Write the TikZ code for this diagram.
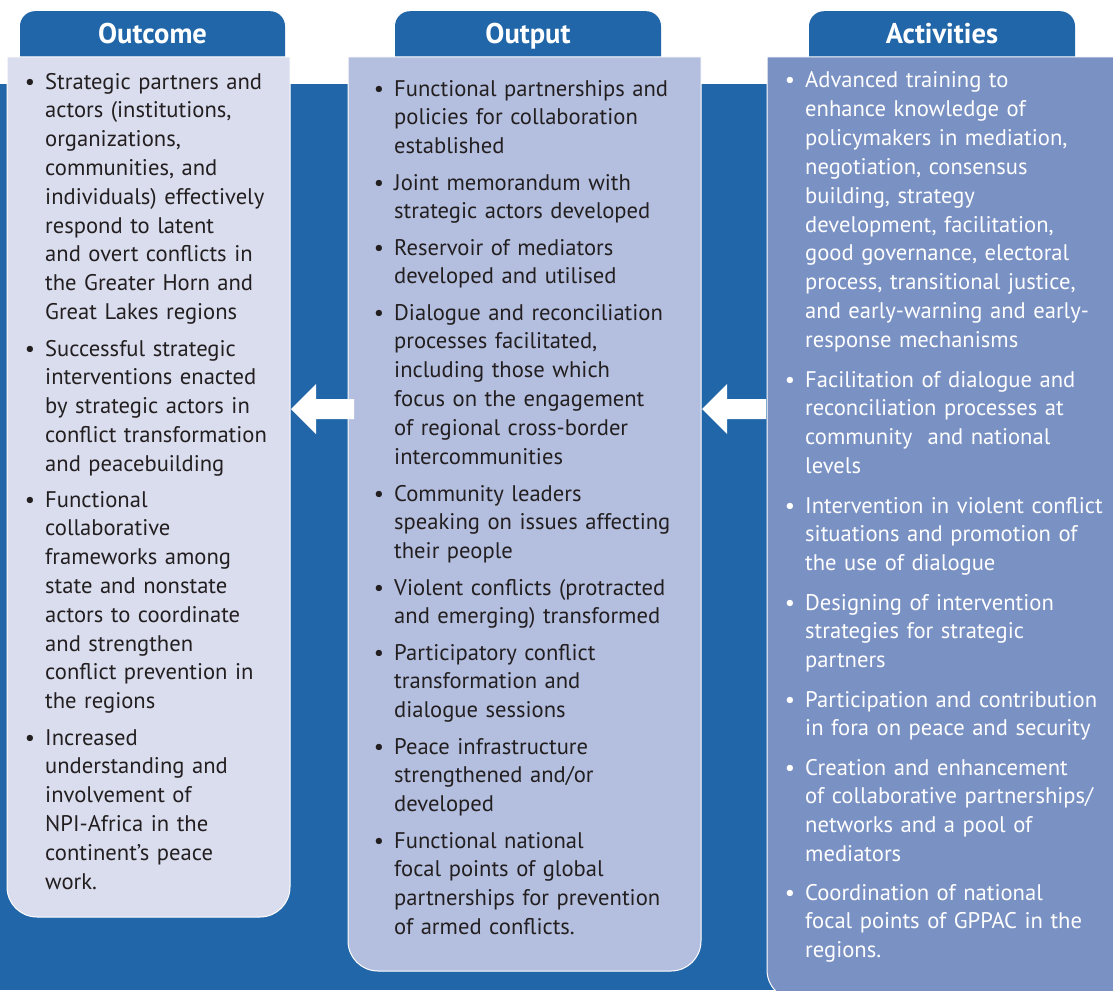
\documentclass[tikz,border=0pt]{standalone}
\usepackage{fontspec}
\setmainfont{PT Sans}
\definecolor{npiblue}{HTML}{2166A8}
\definecolor{outcomefill}{HTML}{D9DDEE}
\definecolor{outputfill}{HTML}{B4BFDF}
\definecolor{activityfill}{HTML}{7A91C4}
\definecolor{ink}{HTML}{231F20}
\tikzset{
  tab/.style={fill=npiblue, rounded corners=15, anchor=north, minimum width=266,
    inner sep=0, text height=32, text depth=40, text=white, font=\fontsize{28.5}{32}\selectfont\bfseries},
  panel/.style={draw=white, line width=1pt},
  item/.style={anchor=base west, inner sep=0, text width=330, align=left,
    text=ink, font=\fontsize{22.6}{28.8}\selectfont},
  dot/.style={anchor=base, inner sep=0, text=ink, font=\fontsize{22.6}{28.8}\selectfont},
}
\begin{document}
\begin{tikzpicture}[x=1pt,y=-1pt]
	\useasboundingbox (0,0) rectangle (1113,990);
	%BACKGROUND
	\fill[white] (0,0) rectangle (1113,990);
	\fill[npiblue] (0,84) rectangle (1113,990);
	
	%HEADERS
	\node[tab,minimum width=265] (houtcome) at (152.5,11) {Outcome};
	\node[tab] (houtput) at (528,11) {Output};
	\node[tab] (hactivities) at (942,11) {Activities};
	
	%PANELS
	\draw[panel,fill=outcomefill] (7,57) -- (290,57) -- (290,887) arc[start angle=0,end angle=90,radius=30] -- (37,917) arc[start angle=90,end angle=180,radius=30] -- cycle;
	\draw[panel,fill=outputfill] (348,57) -- (701,57) -- (701,941) arc[start angle=0,end angle=90,radius=30] -- (378,971) arc[start angle=90,end angle=180,radius=30] -- cycle;
	\draw[panel,fill=activityfill] (767,57) -- (1130,57) -- (1130,1000) -- (797,1000) arc[start angle=90,end angle=180,radius=30] -- cycle;
	
	%ARROWS
	\fill[white] (291,409) -- (316,384) -- (316,399) -- (354,399) -- (354,419) -- (316,419) -- (316,434) -- cycle;
	\fill[white] (702,409) -- (727,384) -- (727,399) -- (766,399) -- (766,419) -- (727,419) -- (727,434) -- cycle;
	
	%OUTCOME
	\node[item] (oc1) at (45,89) {Strategic partners and\\actors (institutions,\\organizations,\\communities, and\\individuals) effectively\\respond to latent\\and overt conflicts in\\the Greater Horn and\\Great Lakes regions};
	\node[item] (oc2) at (45,356) {Successful strategic\\interventions enacted\\by strategic actors in\\conflict transformation\\and peacebuilding};
	\node[item] (oc3) at (45,507) {Functional\\collaborative\\frameworks among\\state and nonstate\\actors to coordinate\\and strengthen\\conflict prevention in\\the regions};
	\node[item] (oc4) at (45,745) {Increased\\understanding and\\involvement of\\NPI-Africa in the\\continent’s peace\\work.};
	
	%OUTPUT
	\node[item] (op1) at (394,96) {Functional partnerships and\\policies for collaboration\\established};
	\node[item] (op2) at (394,190) {Joint memorandum with\\strategic actors developed};
	\node[item] (op3) at (394,255) {Reservoir of mediators\\developed and utilised};
	\node[item] (op4) at (394,320) {Dialogue and reconciliation\\processes facilitated,\\including those which\\focus on the engagement\\of regional cross-border\\intercommunities};
	\node[item] (op5) at (394,501) {Community leaders\\speaking on issues affecting\\their people};
	\node[item] (op6) at (394,595) {Violent conflicts (protracted\\and emerging) transformed};
	\node[item] (op7) at (394,660) {Participatory conflict\\transformation and\\dialogue sessions};
	\node[item] (op8) at (394,754) {Peace infrastructure\\strengthened and/or\\developed};
	\node[item] (op9) at (394,848) {Functional national\\focal points of global\\partnerships for prevention\\of armed conflicts.};
	
	%ACTIVITIES
	\node[item,text=white] (ac1) at (805,88) {Advanced training to\\enhance knowledge of\\policymakers in mediation,\\negotiation, consensus\\building, strategy\\development, facilitation,\\good governance, electoral\\process, transitional justice,\\and early-warning and early-\\response mechanisms};
	\node[item,text=white] (ac2) at (805,387) {Facilitation of dialogue and\\reconciliation processes at\\community~ and national\\levels};
	\node[item,text=white] (ac3) at (805,513) {Intervention in violent conflict\\situations and promotion of\\the use of dialogue};
	\node[item,text=white] (ac4) at (805,610) {Designing of intervention\\strategies for strategic\\partners};
	\node[item,text=white] (ac5) at (805,707) {Participation and contribution\\in fora on peace and security};
	\node[item,text=white] (ac6) at (805,775) {Creation and enhancement\\of collaborative partnerships/\\networks and a pool of\\mediators};
	\node[item,text=white] (ac7) at (805,900) {Coordination of national\\focal points of GPPAC in the\\regions.};
	
	%BULLETS
	\foreach \n in {oc1,oc2,oc3,oc4,op1,op2,op3,op4,op5,op6,op7,op8,op9}
		\node[dot] (b\n) at ([xshift=-15]\n.base west) {\textbullet};
	\foreach \n in {ac1,ac2,ac3,ac4,ac5,ac6,ac7}
		\node[dot,text=white] (b\n) at ([xshift=-15]\n.base west) {\textbullet};
\end{tikzpicture}
\end{document}
